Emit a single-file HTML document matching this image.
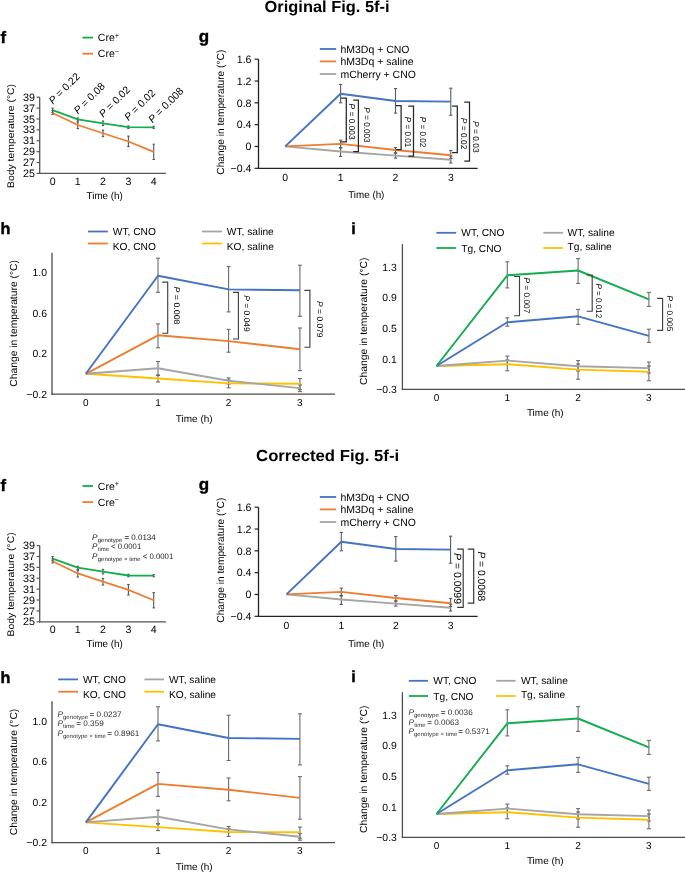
<!DOCTYPE html><html><head><meta charset="utf-8"><style>
html,body{margin:0;padding:0;background:#fff;}
svg{display:block;font-family:"Liberation Sans", sans-serif;text-rendering:geometricPrecision;will-change:transform;}
</style></head><body>
<svg width="685" height="872" viewBox="0 0 685 872">
<rect width="685" height="872" fill="#fff"/>
<text x="264.6" y="11.8" font-size="16" text-anchor="start" font-weight="bold" fill="#000" textLength="125" lengthAdjust="spacingAndGlyphs">Original Fig. 5f-i</text>
<text x="256.1" y="460.6" font-size="16" text-anchor="start" font-weight="bold" fill="#000" textLength="143" lengthAdjust="spacingAndGlyphs">Corrected Fig. 5f-i</text>
<text x="0.4" y="43" font-size="16.5" text-anchor="start" font-weight="bold" fill="#000" stroke="#000" stroke-width="0.45">f</text>
<line x1="82.4" y1="37.6" x2="93" y2="37.6" stroke="#12AD4E" stroke-width="1.8" stroke-linecap="butt"/>
<line x1="82.4" y1="53.7" x2="93" y2="53.7" stroke="#ED7D31" stroke-width="1.8" stroke-linecap="butt"/>
<text x="97.8" y="41.3" font-size="10.5" text-anchor="start" font-weight="normal" fill="#000">Cre<tspan font-size="7.2" dy="-3.6">+</tspan></text>
<text x="97.8" y="57.4" font-size="10.5" text-anchor="start" font-weight="normal" fill="#000">Cre<tspan font-size="7.2" dy="-3.6">−</tspan></text>
<line x1="39.7" y1="97.2" x2="39.7" y2="174" stroke="#555" stroke-width="1.3" stroke-linecap="butt"/>
<line x1="39.1" y1="173.4" x2="165.9" y2="173.4" stroke="#555" stroke-width="1.3" stroke-linecap="butt"/>
<line x1="36.6" y1="97.2" x2="39.7" y2="97.2" stroke="#555" stroke-width="1.2" stroke-linecap="butt"/>
<text x="35" y="100.8" font-size="10.8" text-anchor="end" font-weight="normal" fill="#000">39</text>
<line x1="36.6" y1="108.09" x2="39.7" y2="108.09" stroke="#555" stroke-width="1.2" stroke-linecap="butt"/>
<text x="35" y="111.69" font-size="10.8" text-anchor="end" font-weight="normal" fill="#000">37</text>
<line x1="36.6" y1="118.97" x2="39.7" y2="118.97" stroke="#555" stroke-width="1.2" stroke-linecap="butt"/>
<text x="35" y="122.57" font-size="10.8" text-anchor="end" font-weight="normal" fill="#000">35</text>
<line x1="36.6" y1="129.86" x2="39.7" y2="129.86" stroke="#555" stroke-width="1.2" stroke-linecap="butt"/>
<text x="35" y="133.46" font-size="10.8" text-anchor="end" font-weight="normal" fill="#000">33</text>
<line x1="36.6" y1="140.74" x2="39.7" y2="140.74" stroke="#555" stroke-width="1.2" stroke-linecap="butt"/>
<text x="35" y="144.34" font-size="10.8" text-anchor="end" font-weight="normal" fill="#000">31</text>
<line x1="36.6" y1="151.63" x2="39.7" y2="151.63" stroke="#555" stroke-width="1.2" stroke-linecap="butt"/>
<text x="35" y="155.23" font-size="10.8" text-anchor="end" font-weight="normal" fill="#000">29</text>
<line x1="36.6" y1="162.51" x2="39.7" y2="162.51" stroke="#555" stroke-width="1.2" stroke-linecap="butt"/>
<text x="35" y="166.11" font-size="10.8" text-anchor="end" font-weight="normal" fill="#000">27</text>
<line x1="36.6" y1="173.4" x2="39.7" y2="173.4" stroke="#555" stroke-width="1.2" stroke-linecap="butt"/>
<text x="35" y="177" font-size="10.8" text-anchor="end" font-weight="normal" fill="#000">25</text>
<text x="52.6" y="184.8" font-size="10.6" text-anchor="middle" font-weight="normal" fill="#000">0</text>
<text x="77.8" y="184.8" font-size="10.6" text-anchor="middle" font-weight="normal" fill="#000">1</text>
<text x="103" y="184.8" font-size="10.6" text-anchor="middle" font-weight="normal" fill="#000">2</text>
<text x="128.4" y="184.8" font-size="10.6" text-anchor="middle" font-weight="normal" fill="#000">3</text>
<text x="153.7" y="184.8" font-size="10.6" text-anchor="middle" font-weight="normal" fill="#000">4</text>
<text x="104.7" y="198.6" font-size="10" text-anchor="middle" font-weight="normal" fill="#000" textLength="36.2" lengthAdjust="spacingAndGlyphs">Time (h)</text>
<text x="13.8" y="136" font-size="9.6" text-anchor="middle" font-weight="normal" fill="#000" transform="rotate(-90 13.8 136)" textLength="104" lengthAdjust="spacingAndGlyphs">Body temperature (°C)</text>
<line x1="52.6" y1="110.5" x2="52.6" y2="114.5" stroke="#555" stroke-width="1.1" stroke-linecap="butt"/>
<line x1="51.4" y1="110.5" x2="53.8" y2="110.5" stroke="#555" stroke-width="1.1" stroke-linecap="butt"/>
<line x1="51.4" y1="114.5" x2="53.8" y2="114.5" stroke="#555" stroke-width="1.1" stroke-linecap="butt"/>
<line x1="52.6" y1="108.2" x2="52.6" y2="112.3" stroke="#555" stroke-width="1.1" stroke-linecap="butt"/>
<line x1="51.4" y1="108.2" x2="53.8" y2="108.2" stroke="#555" stroke-width="1.1" stroke-linecap="butt"/>
<line x1="51.4" y1="112.3" x2="53.8" y2="112.3" stroke="#555" stroke-width="1.1" stroke-linecap="butt"/>
<line x1="77.8" y1="122" x2="77.8" y2="128.6" stroke="#555" stroke-width="1.1" stroke-linecap="butt"/>
<line x1="76.6" y1="122" x2="79" y2="122" stroke="#555" stroke-width="1.1" stroke-linecap="butt"/>
<line x1="76.6" y1="128.6" x2="79" y2="128.6" stroke="#555" stroke-width="1.1" stroke-linecap="butt"/>
<line x1="77.8" y1="117.9" x2="77.8" y2="121" stroke="#555" stroke-width="1.1" stroke-linecap="butt"/>
<line x1="76.6" y1="117.9" x2="79" y2="117.9" stroke="#555" stroke-width="1.1" stroke-linecap="butt"/>
<line x1="76.6" y1="121" x2="79" y2="121" stroke="#555" stroke-width="1.1" stroke-linecap="butt"/>
<line x1="103" y1="130.1" x2="103" y2="136.6" stroke="#555" stroke-width="1.1" stroke-linecap="butt"/>
<line x1="101.8" y1="130.1" x2="104.2" y2="130.1" stroke="#555" stroke-width="1.1" stroke-linecap="butt"/>
<line x1="101.8" y1="136.6" x2="104.2" y2="136.6" stroke="#555" stroke-width="1.1" stroke-linecap="butt"/>
<line x1="103" y1="121" x2="103" y2="125.5" stroke="#555" stroke-width="1.1" stroke-linecap="butt"/>
<line x1="101.8" y1="121" x2="104.2" y2="121" stroke="#555" stroke-width="1.1" stroke-linecap="butt"/>
<line x1="101.8" y1="125.5" x2="104.2" y2="125.5" stroke="#555" stroke-width="1.1" stroke-linecap="butt"/>
<line x1="128.4" y1="136.1" x2="128.4" y2="146.6" stroke="#555" stroke-width="1.1" stroke-linecap="butt"/>
<line x1="127.2" y1="136.1" x2="129.6" y2="136.1" stroke="#555" stroke-width="1.1" stroke-linecap="butt"/>
<line x1="127.2" y1="146.6" x2="129.6" y2="146.6" stroke="#555" stroke-width="1.1" stroke-linecap="butt"/>
<line x1="128.4" y1="125.9" x2="128.4" y2="128.4" stroke="#555" stroke-width="1.1" stroke-linecap="butt"/>
<line x1="127.2" y1="125.9" x2="129.6" y2="125.9" stroke="#555" stroke-width="1.1" stroke-linecap="butt"/>
<line x1="127.2" y1="128.4" x2="129.6" y2="128.4" stroke="#555" stroke-width="1.1" stroke-linecap="butt"/>
<line x1="153.7" y1="144.2" x2="153.7" y2="159.5" stroke="#555" stroke-width="1.1" stroke-linecap="butt"/>
<line x1="152.5" y1="144.2" x2="154.9" y2="144.2" stroke="#555" stroke-width="1.1" stroke-linecap="butt"/>
<line x1="152.5" y1="159.5" x2="154.9" y2="159.5" stroke="#555" stroke-width="1.1" stroke-linecap="butt"/>
<line x1="153.7" y1="126.3" x2="153.7" y2="128.3" stroke="#555" stroke-width="1.1" stroke-linecap="butt"/>
<line x1="152.5" y1="126.3" x2="154.9" y2="126.3" stroke="#555" stroke-width="1.1" stroke-linecap="butt"/>
<line x1="152.5" y1="128.3" x2="154.9" y2="128.3" stroke="#555" stroke-width="1.1" stroke-linecap="butt"/>
<polyline points="52.6,112.9 77.8,125 103,133.2 128.4,141.5 153.7,151.9" fill="none" stroke="#ED7D31" stroke-width="1.7" stroke-linejoin="round" stroke-linecap="butt"/>
<polyline points="52.6,110.2 77.8,119.3 103,123.3 128.4,127.1 153.7,127.3" fill="none" stroke="#12AD4E" stroke-width="1.8" stroke-linejoin="round" stroke-linecap="butt"/>
<text x="52.9" y="104.8" font-size="10.4" text-anchor="start" font-weight="normal" fill="#000" transform="rotate(-45 52.9 104.8)"><tspan font-style="italic">P</tspan> = 0.22</text>
<text x="78" y="114.6" font-size="10.4" text-anchor="start" font-weight="normal" fill="#000" transform="rotate(-45 78 114.6)"><tspan font-style="italic">P</tspan> = 0.08</text>
<text x="103.2" y="118" font-size="10.4" text-anchor="start" font-weight="normal" fill="#000" transform="rotate(-45 103.2 118)"><tspan font-style="italic">P</tspan> = 0.02</text>
<text x="128.4" y="121.2" font-size="10.4" text-anchor="start" font-weight="normal" fill="#000" transform="rotate(-45 128.4 121.2)"><tspan font-style="italic">P</tspan> = 0.02</text>
<text x="152.5" y="123.4" font-size="10.4" text-anchor="start" font-weight="normal" fill="#000" transform="rotate(-45 152.5 123.4)"><tspan font-style="italic">P</tspan> = 0.008</text>
<text x="0.4" y="491.4" font-size="16.5" text-anchor="start" font-weight="bold" fill="#000" stroke="#000" stroke-width="0.45">f</text>
<line x1="82.4" y1="486" x2="93" y2="486" stroke="#12AD4E" stroke-width="1.8" stroke-linecap="butt"/>
<line x1="82.4" y1="502.1" x2="93" y2="502.1" stroke="#ED7D31" stroke-width="1.8" stroke-linecap="butt"/>
<text x="97.8" y="489.7" font-size="10.5" text-anchor="start" font-weight="normal" fill="#000">Cre<tspan font-size="7.2" dy="-3.6">+</tspan></text>
<text x="97.8" y="505.8" font-size="10.5" text-anchor="start" font-weight="normal" fill="#000">Cre<tspan font-size="7.2" dy="-3.6">−</tspan></text>
<line x1="39.7" y1="545.6" x2="39.7" y2="622.4" stroke="#555" stroke-width="1.3" stroke-linecap="butt"/>
<line x1="39.1" y1="621.8" x2="165.9" y2="621.8" stroke="#555" stroke-width="1.3" stroke-linecap="butt"/>
<line x1="36.6" y1="545.6" x2="39.7" y2="545.6" stroke="#555" stroke-width="1.2" stroke-linecap="butt"/>
<text x="35" y="549.2" font-size="10.8" text-anchor="end" font-weight="normal" fill="#000">39</text>
<line x1="36.6" y1="556.49" x2="39.7" y2="556.49" stroke="#555" stroke-width="1.2" stroke-linecap="butt"/>
<text x="35" y="560.09" font-size="10.8" text-anchor="end" font-weight="normal" fill="#000">37</text>
<line x1="36.6" y1="567.37" x2="39.7" y2="567.37" stroke="#555" stroke-width="1.2" stroke-linecap="butt"/>
<text x="35" y="570.97" font-size="10.8" text-anchor="end" font-weight="normal" fill="#000">35</text>
<line x1="36.6" y1="578.26" x2="39.7" y2="578.26" stroke="#555" stroke-width="1.2" stroke-linecap="butt"/>
<text x="35" y="581.86" font-size="10.8" text-anchor="end" font-weight="normal" fill="#000">33</text>
<line x1="36.6" y1="589.14" x2="39.7" y2="589.14" stroke="#555" stroke-width="1.2" stroke-linecap="butt"/>
<text x="35" y="592.74" font-size="10.8" text-anchor="end" font-weight="normal" fill="#000">31</text>
<line x1="36.6" y1="600.03" x2="39.7" y2="600.03" stroke="#555" stroke-width="1.2" stroke-linecap="butt"/>
<text x="35" y="603.63" font-size="10.8" text-anchor="end" font-weight="normal" fill="#000">29</text>
<line x1="36.6" y1="610.91" x2="39.7" y2="610.91" stroke="#555" stroke-width="1.2" stroke-linecap="butt"/>
<text x="35" y="614.51" font-size="10.8" text-anchor="end" font-weight="normal" fill="#000">27</text>
<line x1="36.6" y1="621.8" x2="39.7" y2="621.8" stroke="#555" stroke-width="1.2" stroke-linecap="butt"/>
<text x="35" y="625.4" font-size="10.8" text-anchor="end" font-weight="normal" fill="#000">25</text>
<text x="52.6" y="633.2" font-size="10.6" text-anchor="middle" font-weight="normal" fill="#000">0</text>
<text x="77.8" y="633.2" font-size="10.6" text-anchor="middle" font-weight="normal" fill="#000">1</text>
<text x="103" y="633.2" font-size="10.6" text-anchor="middle" font-weight="normal" fill="#000">2</text>
<text x="128.4" y="633.2" font-size="10.6" text-anchor="middle" font-weight="normal" fill="#000">3</text>
<text x="153.7" y="633.2" font-size="10.6" text-anchor="middle" font-weight="normal" fill="#000">4</text>
<text x="104.7" y="647" font-size="10" text-anchor="middle" font-weight="normal" fill="#000" textLength="36.2" lengthAdjust="spacingAndGlyphs">Time (h)</text>
<text x="13.8" y="584.4" font-size="9.6" text-anchor="middle" font-weight="normal" fill="#000" transform="rotate(-90 13.8 584.4)" textLength="104" lengthAdjust="spacingAndGlyphs">Body temperature (°C)</text>
<line x1="52.6" y1="558.9" x2="52.6" y2="562.9" stroke="#555" stroke-width="1.1" stroke-linecap="butt"/>
<line x1="51.4" y1="558.9" x2="53.8" y2="558.9" stroke="#555" stroke-width="1.1" stroke-linecap="butt"/>
<line x1="51.4" y1="562.9" x2="53.8" y2="562.9" stroke="#555" stroke-width="1.1" stroke-linecap="butt"/>
<line x1="52.6" y1="556.6" x2="52.6" y2="560.7" stroke="#555" stroke-width="1.1" stroke-linecap="butt"/>
<line x1="51.4" y1="556.6" x2="53.8" y2="556.6" stroke="#555" stroke-width="1.1" stroke-linecap="butt"/>
<line x1="51.4" y1="560.7" x2="53.8" y2="560.7" stroke="#555" stroke-width="1.1" stroke-linecap="butt"/>
<line x1="77.8" y1="570.4" x2="77.8" y2="577" stroke="#555" stroke-width="1.1" stroke-linecap="butt"/>
<line x1="76.6" y1="570.4" x2="79" y2="570.4" stroke="#555" stroke-width="1.1" stroke-linecap="butt"/>
<line x1="76.6" y1="577" x2="79" y2="577" stroke="#555" stroke-width="1.1" stroke-linecap="butt"/>
<line x1="77.8" y1="566.3" x2="77.8" y2="569.4" stroke="#555" stroke-width="1.1" stroke-linecap="butt"/>
<line x1="76.6" y1="566.3" x2="79" y2="566.3" stroke="#555" stroke-width="1.1" stroke-linecap="butt"/>
<line x1="76.6" y1="569.4" x2="79" y2="569.4" stroke="#555" stroke-width="1.1" stroke-linecap="butt"/>
<line x1="103" y1="578.5" x2="103" y2="585" stroke="#555" stroke-width="1.1" stroke-linecap="butt"/>
<line x1="101.8" y1="578.5" x2="104.2" y2="578.5" stroke="#555" stroke-width="1.1" stroke-linecap="butt"/>
<line x1="101.8" y1="585" x2="104.2" y2="585" stroke="#555" stroke-width="1.1" stroke-linecap="butt"/>
<line x1="103" y1="569.4" x2="103" y2="573.9" stroke="#555" stroke-width="1.1" stroke-linecap="butt"/>
<line x1="101.8" y1="569.4" x2="104.2" y2="569.4" stroke="#555" stroke-width="1.1" stroke-linecap="butt"/>
<line x1="101.8" y1="573.9" x2="104.2" y2="573.9" stroke="#555" stroke-width="1.1" stroke-linecap="butt"/>
<line x1="128.4" y1="584.5" x2="128.4" y2="595" stroke="#555" stroke-width="1.1" stroke-linecap="butt"/>
<line x1="127.2" y1="584.5" x2="129.6" y2="584.5" stroke="#555" stroke-width="1.1" stroke-linecap="butt"/>
<line x1="127.2" y1="595" x2="129.6" y2="595" stroke="#555" stroke-width="1.1" stroke-linecap="butt"/>
<line x1="128.4" y1="574.3" x2="128.4" y2="576.8" stroke="#555" stroke-width="1.1" stroke-linecap="butt"/>
<line x1="127.2" y1="574.3" x2="129.6" y2="574.3" stroke="#555" stroke-width="1.1" stroke-linecap="butt"/>
<line x1="127.2" y1="576.8" x2="129.6" y2="576.8" stroke="#555" stroke-width="1.1" stroke-linecap="butt"/>
<line x1="153.7" y1="592.6" x2="153.7" y2="607.9" stroke="#555" stroke-width="1.1" stroke-linecap="butt"/>
<line x1="152.5" y1="592.6" x2="154.9" y2="592.6" stroke="#555" stroke-width="1.1" stroke-linecap="butt"/>
<line x1="152.5" y1="607.9" x2="154.9" y2="607.9" stroke="#555" stroke-width="1.1" stroke-linecap="butt"/>
<line x1="153.7" y1="574.7" x2="153.7" y2="576.7" stroke="#555" stroke-width="1.1" stroke-linecap="butt"/>
<line x1="152.5" y1="574.7" x2="154.9" y2="574.7" stroke="#555" stroke-width="1.1" stroke-linecap="butt"/>
<line x1="152.5" y1="576.7" x2="154.9" y2="576.7" stroke="#555" stroke-width="1.1" stroke-linecap="butt"/>
<polyline points="52.6,561.3 77.8,573.4 103,581.6 128.4,589.9 153.7,600.3" fill="none" stroke="#ED7D31" stroke-width="1.7" stroke-linejoin="round" stroke-linecap="butt"/>
<polyline points="52.6,558.6 77.8,567.7 103,571.7 128.4,575.5 153.7,575.7" fill="none" stroke="#12AD4E" stroke-width="1.8" stroke-linejoin="round" stroke-linecap="butt"/>
<text x="92" y="539.6" font-size="8.16" text-anchor="start" font-weight="normal" fill="#1a1a1a" font-style="italic">P</text>
<text x="97.8" y="541.5" font-size="5.9" text-anchor="start" font-weight="normal" fill="#1a1a1a" textLength="24.4" lengthAdjust="spacingAndGlyphs">genotype</text>
<text x="124.4" y="539.6" font-size="8.0" text-anchor="start" font-weight="normal" fill="#1a1a1a" textLength="31.4" lengthAdjust="spacingAndGlyphs">= 0.0134</text>
<text x="92" y="549.1" font-size="8.16" text-anchor="start" font-weight="normal" fill="#1a1a1a" font-style="italic">P</text>
<text x="97.8" y="551" font-size="5.9" text-anchor="start" font-weight="normal" fill="#1a1a1a" textLength="11.2" lengthAdjust="spacingAndGlyphs">time</text>
<text x="111" y="549.1" font-size="8.0" text-anchor="start" font-weight="normal" fill="#1a1a1a" textLength="30.2" lengthAdjust="spacingAndGlyphs">&lt; 0.0001</text>
<text x="92" y="559.3" font-size="8.16" text-anchor="start" font-weight="normal" fill="#1a1a1a" font-style="italic">P</text>
<text x="97.8" y="561.2" font-size="5.9" text-anchor="start" font-weight="normal" fill="#1a1a1a" textLength="42.7" lengthAdjust="spacingAndGlyphs">genotype × time</text>
<text x="142.7" y="559.3" font-size="8.0" text-anchor="start" font-weight="normal" fill="#1a1a1a" textLength="30.6" lengthAdjust="spacingAndGlyphs">&lt; 0.0001</text>
<text x="198.8" y="42.3" font-size="17" text-anchor="start" font-weight="bold" fill="#000" stroke="#000" stroke-width="0.4">g</text>
<line x1="319.8" y1="49" x2="336.2" y2="49" stroke="#4472C4" stroke-width="1.8" stroke-linecap="butt"/>
<text x="340.4" y="52.8" font-size="10.5" text-anchor="start" font-weight="normal" fill="#000">hM3Dq + CNO</text>
<line x1="319.8" y1="61.4" x2="336.2" y2="61.4" stroke="#ED7D31" stroke-width="1.8" stroke-linecap="butt"/>
<text x="340.4" y="65.2" font-size="10.5" text-anchor="start" font-weight="normal" fill="#000">hM3Dq + saline</text>
<line x1="319.8" y1="74" x2="336.2" y2="74" stroke="#A5A5A5" stroke-width="1.8" stroke-linecap="butt"/>
<text x="340.4" y="77.8" font-size="10.5" text-anchor="start" font-weight="normal" fill="#000">mCherry + CNO</text>
<line x1="258.5" y1="59.2" x2="258.5" y2="168.9" stroke="#222" stroke-width="1.3" stroke-linecap="butt"/>
<line x1="257.9" y1="168.3" x2="477.7" y2="168.3" stroke="#222" stroke-width="1.3" stroke-linecap="butt"/>
<line x1="254.6" y1="59.2" x2="258.5" y2="59.2" stroke="#222" stroke-width="1.2" stroke-linecap="butt"/>
<text x="251.5" y="63" font-size="10.6" text-anchor="end" font-weight="normal" fill="#000">1.6</text>
<line x1="254.6" y1="81.02" x2="258.5" y2="81.02" stroke="#222" stroke-width="1.2" stroke-linecap="butt"/>
<text x="251.5" y="84.82" font-size="10.6" text-anchor="end" font-weight="normal" fill="#000">1.2</text>
<line x1="254.6" y1="102.84" x2="258.5" y2="102.84" stroke="#222" stroke-width="1.2" stroke-linecap="butt"/>
<text x="251.5" y="106.64" font-size="10.6" text-anchor="end" font-weight="normal" fill="#000">0.8</text>
<line x1="254.6" y1="124.66" x2="258.5" y2="124.66" stroke="#222" stroke-width="1.2" stroke-linecap="butt"/>
<text x="251.5" y="128.46" font-size="10.6" text-anchor="end" font-weight="normal" fill="#000">0.4</text>
<line x1="254.6" y1="146.48" x2="258.5" y2="146.48" stroke="#222" stroke-width="1.2" stroke-linecap="butt"/>
<text x="251.5" y="150.28" font-size="10.6" text-anchor="end" font-weight="normal" fill="#000">0</text>
<line x1="254.6" y1="168.3" x2="258.5" y2="168.3" stroke="#222" stroke-width="1.2" stroke-linecap="butt"/>
<text x="251.5" y="172.1" font-size="10.6" text-anchor="end" font-weight="normal" fill="#000">−0.4</text>
<text x="285.2" y="181.4" font-size="10.4" text-anchor="middle" font-weight="normal" fill="#000">0</text>
<text x="340.6" y="181.4" font-size="10.4" text-anchor="middle" font-weight="normal" fill="#000">1</text>
<text x="395.5" y="181.4" font-size="10.4" text-anchor="middle" font-weight="normal" fill="#000">2</text>
<text x="450.8" y="181.4" font-size="10.4" text-anchor="middle" font-weight="normal" fill="#000">3</text>
<text x="366.3" y="198.2" font-size="10" text-anchor="middle" font-weight="normal" fill="#000" textLength="36.2" lengthAdjust="spacingAndGlyphs">Time (h)</text>
<text x="223.6" y="112.2" font-size="10.3" text-anchor="middle" font-weight="normal" fill="#000" transform="rotate(-90 223.6 112.2)" textLength="125" lengthAdjust="spacingAndGlyphs">Change in temperature (°C)</text>
<line x1="340.6" y1="84.4" x2="340.6" y2="102.8" stroke="#5a5a5a" stroke-width="1.1" stroke-linecap="butt"/>
<line x1="338.95" y1="84.4" x2="342.25" y2="84.4" stroke="#5a5a5a" stroke-width="1.1" stroke-linecap="butt"/>
<line x1="338.95" y1="102.8" x2="342.25" y2="102.8" stroke="#5a5a5a" stroke-width="1.1" stroke-linecap="butt"/>
<line x1="340.6" y1="140.2" x2="340.6" y2="148" stroke="#5a5a5a" stroke-width="1.1" stroke-linecap="butt"/>
<line x1="338.95" y1="140.2" x2="342.25" y2="140.2" stroke="#5a5a5a" stroke-width="1.1" stroke-linecap="butt"/>
<line x1="338.95" y1="148" x2="342.25" y2="148" stroke="#5a5a5a" stroke-width="1.1" stroke-linecap="butt"/>
<line x1="340.6" y1="147.5" x2="340.6" y2="156.4" stroke="#5a5a5a" stroke-width="1.1" stroke-linecap="butt"/>
<line x1="338.95" y1="147.5" x2="342.25" y2="147.5" stroke="#5a5a5a" stroke-width="1.1" stroke-linecap="butt"/>
<line x1="338.95" y1="156.4" x2="342.25" y2="156.4" stroke="#5a5a5a" stroke-width="1.1" stroke-linecap="butt"/>
<line x1="395.5" y1="88.6" x2="395.5" y2="113.1" stroke="#5a5a5a" stroke-width="1.1" stroke-linecap="butt"/>
<line x1="393.85" y1="88.6" x2="397.15" y2="88.6" stroke="#5a5a5a" stroke-width="1.1" stroke-linecap="butt"/>
<line x1="393.85" y1="113.1" x2="397.15" y2="113.1" stroke="#5a5a5a" stroke-width="1.1" stroke-linecap="butt"/>
<line x1="395.5" y1="147.5" x2="395.5" y2="153" stroke="#5a5a5a" stroke-width="1.1" stroke-linecap="butt"/>
<line x1="393.85" y1="147.5" x2="397.15" y2="147.5" stroke="#5a5a5a" stroke-width="1.1" stroke-linecap="butt"/>
<line x1="393.85" y1="153" x2="397.15" y2="153" stroke="#5a5a5a" stroke-width="1.1" stroke-linecap="butt"/>
<line x1="395.5" y1="153" x2="395.5" y2="158.1" stroke="#5a5a5a" stroke-width="1.1" stroke-linecap="butt"/>
<line x1="393.85" y1="153" x2="397.15" y2="153" stroke="#5a5a5a" stroke-width="1.1" stroke-linecap="butt"/>
<line x1="393.85" y1="158.1" x2="397.15" y2="158.1" stroke="#5a5a5a" stroke-width="1.1" stroke-linecap="butt"/>
<line x1="450.8" y1="88.2" x2="450.8" y2="115.2" stroke="#5a5a5a" stroke-width="1.1" stroke-linecap="butt"/>
<line x1="449.15" y1="88.2" x2="452.45" y2="88.2" stroke="#5a5a5a" stroke-width="1.1" stroke-linecap="butt"/>
<line x1="449.15" y1="115.2" x2="452.45" y2="115.2" stroke="#5a5a5a" stroke-width="1.1" stroke-linecap="butt"/>
<line x1="450.8" y1="150.5" x2="450.8" y2="158.5" stroke="#5a5a5a" stroke-width="1.1" stroke-linecap="butt"/>
<line x1="449.15" y1="150.5" x2="452.45" y2="150.5" stroke="#5a5a5a" stroke-width="1.1" stroke-linecap="butt"/>
<line x1="449.15" y1="158.5" x2="452.45" y2="158.5" stroke="#5a5a5a" stroke-width="1.1" stroke-linecap="butt"/>
<line x1="450.8" y1="156" x2="450.8" y2="163" stroke="#5a5a5a" stroke-width="1.1" stroke-linecap="butt"/>
<line x1="449.15" y1="156" x2="452.45" y2="156" stroke="#5a5a5a" stroke-width="1.1" stroke-linecap="butt"/>
<line x1="449.15" y1="163" x2="452.45" y2="163" stroke="#5a5a5a" stroke-width="1.1" stroke-linecap="butt"/>
<polyline points="285.2,146.4 340.6,151.5 395.5,155.6 450.8,159.7" fill="none" stroke="#A5A5A5" stroke-width="1.9" stroke-linejoin="round" stroke-linecap="butt"/>
<polyline points="285.2,146.4 340.6,143.9 395.5,150 450.8,155.2" fill="none" stroke="#ED7D31" stroke-width="1.9" stroke-linejoin="round" stroke-linecap="butt"/>
<polyline points="285.2,146.4 340.6,93.8 395.5,101 450.8,101.6" fill="none" stroke="#4472C4" stroke-width="1.9" stroke-linejoin="round" stroke-linecap="butt"/>
<polyline points="341.1,98 346.3,98 346.3,141.9 341.1,141.9" fill="none" stroke="#262626" stroke-width="1.25"/>
<text x="349" y="103.6" font-size="8.5" text-anchor="start" font-weight="normal" fill="#000" transform="rotate(90 349 103.6)" textLength="36.1" lengthAdjust="spacingAndGlyphs"><tspan font-style="italic">P</tspan> = 0.003</text>
<polyline points="353.2,100.1 358.4,100.1 358.4,151.7 353.2,151.7" fill="none" stroke="#262626" stroke-width="1.25"/>
<text x="363.8" y="107.3" font-size="8.5" text-anchor="start" font-weight="normal" fill="#000" transform="rotate(90 363.8 107.3)" textLength="35.4" lengthAdjust="spacingAndGlyphs"><tspan font-style="italic">P</tspan> = 0.003</text>
<polyline points="395.9,105.5 401.1,105.5 401.1,149.5 395.9,149.5" fill="none" stroke="#262626" stroke-width="1.25"/>
<text x="404.5" y="116.8" font-size="8.5" text-anchor="start" font-weight="normal" fill="#000" transform="rotate(90 404.5 116.8)" textLength="30.6" lengthAdjust="spacingAndGlyphs"><tspan font-style="italic">P</tspan> = 0.01</text>
<polyline points="408.3,106.2 413.5,106.2 413.5,156 408.3,156" fill="none" stroke="#262626" stroke-width="1.25"/>
<text x="419.6" y="116.8" font-size="8.5" text-anchor="start" font-weight="normal" fill="#000" transform="rotate(90 419.6 116.8)" textLength="30.6" lengthAdjust="spacingAndGlyphs"><tspan font-style="italic">P</tspan> = 0.02</text>
<polyline points="452.1,106 457.3,106 457.3,152.6 452.1,152.6" fill="none" stroke="#262626" stroke-width="1.25"/>
<text x="461" y="117.8" font-size="8.5" text-anchor="start" font-weight="normal" fill="#000" transform="rotate(90 461 117.8)" textLength="31.7" lengthAdjust="spacingAndGlyphs"><tspan font-style="italic">P</tspan> = 0.02</text>
<polyline points="464.3,102 469.5,102 469.5,161.1 464.3,161.1" fill="none" stroke="#262626" stroke-width="1.25"/>
<text x="472.6" y="120.9" font-size="8.5" text-anchor="start" font-weight="normal" fill="#000" transform="rotate(90 472.6 120.9)" textLength="31.7" lengthAdjust="spacingAndGlyphs"><tspan font-style="italic">P</tspan> = 0.03</text>
<text x="198.8" y="490.3" font-size="17" text-anchor="start" font-weight="bold" fill="#000" stroke="#000" stroke-width="0.4">g</text>
<line x1="319.8" y1="497" x2="336.2" y2="497" stroke="#4472C4" stroke-width="1.8" stroke-linecap="butt"/>
<text x="340.4" y="500.8" font-size="10.5" text-anchor="start" font-weight="normal" fill="#000">hM3Dq + CNO</text>
<line x1="319.8" y1="509.4" x2="336.2" y2="509.4" stroke="#ED7D31" stroke-width="1.8" stroke-linecap="butt"/>
<text x="340.4" y="513.2" font-size="10.5" text-anchor="start" font-weight="normal" fill="#000">hM3Dq + saline</text>
<line x1="319.8" y1="522" x2="336.2" y2="522" stroke="#A5A5A5" stroke-width="1.8" stroke-linecap="butt"/>
<text x="340.4" y="525.8" font-size="10.5" text-anchor="start" font-weight="normal" fill="#000">mCherry + CNO</text>
<line x1="258.5" y1="507.2" x2="258.5" y2="616.9" stroke="#222" stroke-width="1.3" stroke-linecap="butt"/>
<line x1="257.9" y1="616.3" x2="477.7" y2="616.3" stroke="#222" stroke-width="1.3" stroke-linecap="butt"/>
<line x1="254.6" y1="507.2" x2="258.5" y2="507.2" stroke="#222" stroke-width="1.2" stroke-linecap="butt"/>
<text x="251.5" y="511" font-size="10.6" text-anchor="end" font-weight="normal" fill="#000">1.6</text>
<line x1="254.6" y1="529.02" x2="258.5" y2="529.02" stroke="#222" stroke-width="1.2" stroke-linecap="butt"/>
<text x="251.5" y="532.82" font-size="10.6" text-anchor="end" font-weight="normal" fill="#000">1.2</text>
<line x1="254.6" y1="550.84" x2="258.5" y2="550.84" stroke="#222" stroke-width="1.2" stroke-linecap="butt"/>
<text x="251.5" y="554.64" font-size="10.6" text-anchor="end" font-weight="normal" fill="#000">0.8</text>
<line x1="254.6" y1="572.66" x2="258.5" y2="572.66" stroke="#222" stroke-width="1.2" stroke-linecap="butt"/>
<text x="251.5" y="576.46" font-size="10.6" text-anchor="end" font-weight="normal" fill="#000">0.4</text>
<line x1="254.6" y1="594.48" x2="258.5" y2="594.48" stroke="#222" stroke-width="1.2" stroke-linecap="butt"/>
<text x="251.5" y="598.28" font-size="10.6" text-anchor="end" font-weight="normal" fill="#000">0</text>
<line x1="254.6" y1="616.3" x2="258.5" y2="616.3" stroke="#222" stroke-width="1.2" stroke-linecap="butt"/>
<text x="251.5" y="620.1" font-size="10.6" text-anchor="end" font-weight="normal" fill="#000">−0.4</text>
<text x="286.5" y="629.4" font-size="10.4" text-anchor="middle" font-weight="normal" fill="#000">0</text>
<text x="341.3" y="629.4" font-size="10.4" text-anchor="middle" font-weight="normal" fill="#000">1</text>
<text x="395.8" y="629.4" font-size="10.4" text-anchor="middle" font-weight="normal" fill="#000">2</text>
<text x="450.6" y="629.4" font-size="10.4" text-anchor="middle" font-weight="normal" fill="#000">3</text>
<text x="366.3" y="647.2" font-size="10" text-anchor="middle" font-weight="normal" fill="#000" textLength="36.2" lengthAdjust="spacingAndGlyphs">Time (h)</text>
<text x="223.6" y="560.2" font-size="10.3" text-anchor="middle" font-weight="normal" fill="#000" transform="rotate(-90 223.6 560.2)" textLength="125" lengthAdjust="spacingAndGlyphs">Change in temperature (°C)</text>
<line x1="341.3" y1="532.4" x2="341.3" y2="550.8" stroke="#5a5a5a" stroke-width="1.1" stroke-linecap="butt"/>
<line x1="339.65" y1="532.4" x2="342.95" y2="532.4" stroke="#5a5a5a" stroke-width="1.1" stroke-linecap="butt"/>
<line x1="339.65" y1="550.8" x2="342.95" y2="550.8" stroke="#5a5a5a" stroke-width="1.1" stroke-linecap="butt"/>
<line x1="341.3" y1="588.2" x2="341.3" y2="596" stroke="#5a5a5a" stroke-width="1.1" stroke-linecap="butt"/>
<line x1="339.65" y1="588.2" x2="342.95" y2="588.2" stroke="#5a5a5a" stroke-width="1.1" stroke-linecap="butt"/>
<line x1="339.65" y1="596" x2="342.95" y2="596" stroke="#5a5a5a" stroke-width="1.1" stroke-linecap="butt"/>
<line x1="341.3" y1="595.5" x2="341.3" y2="604.4" stroke="#5a5a5a" stroke-width="1.1" stroke-linecap="butt"/>
<line x1="339.65" y1="595.5" x2="342.95" y2="595.5" stroke="#5a5a5a" stroke-width="1.1" stroke-linecap="butt"/>
<line x1="339.65" y1="604.4" x2="342.95" y2="604.4" stroke="#5a5a5a" stroke-width="1.1" stroke-linecap="butt"/>
<line x1="395.8" y1="536.6" x2="395.8" y2="561.1" stroke="#5a5a5a" stroke-width="1.1" stroke-linecap="butt"/>
<line x1="394.15" y1="536.6" x2="397.45" y2="536.6" stroke="#5a5a5a" stroke-width="1.1" stroke-linecap="butt"/>
<line x1="394.15" y1="561.1" x2="397.45" y2="561.1" stroke="#5a5a5a" stroke-width="1.1" stroke-linecap="butt"/>
<line x1="395.8" y1="595.5" x2="395.8" y2="601" stroke="#5a5a5a" stroke-width="1.1" stroke-linecap="butt"/>
<line x1="394.15" y1="595.5" x2="397.45" y2="595.5" stroke="#5a5a5a" stroke-width="1.1" stroke-linecap="butt"/>
<line x1="394.15" y1="601" x2="397.45" y2="601" stroke="#5a5a5a" stroke-width="1.1" stroke-linecap="butt"/>
<line x1="395.8" y1="601" x2="395.8" y2="606.1" stroke="#5a5a5a" stroke-width="1.1" stroke-linecap="butt"/>
<line x1="394.15" y1="601" x2="397.45" y2="601" stroke="#5a5a5a" stroke-width="1.1" stroke-linecap="butt"/>
<line x1="394.15" y1="606.1" x2="397.45" y2="606.1" stroke="#5a5a5a" stroke-width="1.1" stroke-linecap="butt"/>
<line x1="450.6" y1="536.2" x2="450.6" y2="563.2" stroke="#5a5a5a" stroke-width="1.1" stroke-linecap="butt"/>
<line x1="448.95" y1="536.2" x2="452.25" y2="536.2" stroke="#5a5a5a" stroke-width="1.1" stroke-linecap="butt"/>
<line x1="448.95" y1="563.2" x2="452.25" y2="563.2" stroke="#5a5a5a" stroke-width="1.1" stroke-linecap="butt"/>
<line x1="450.6" y1="598.5" x2="450.6" y2="606.5" stroke="#5a5a5a" stroke-width="1.1" stroke-linecap="butt"/>
<line x1="448.95" y1="598.5" x2="452.25" y2="598.5" stroke="#5a5a5a" stroke-width="1.1" stroke-linecap="butt"/>
<line x1="448.95" y1="606.5" x2="452.25" y2="606.5" stroke="#5a5a5a" stroke-width="1.1" stroke-linecap="butt"/>
<line x1="450.6" y1="604" x2="450.6" y2="611" stroke="#5a5a5a" stroke-width="1.1" stroke-linecap="butt"/>
<line x1="448.95" y1="604" x2="452.25" y2="604" stroke="#5a5a5a" stroke-width="1.1" stroke-linecap="butt"/>
<line x1="448.95" y1="611" x2="452.25" y2="611" stroke="#5a5a5a" stroke-width="1.1" stroke-linecap="butt"/>
<polyline points="286.5,594.4 341.3,599.5 395.8,603.6 450.6,607.7" fill="none" stroke="#A5A5A5" stroke-width="1.9" stroke-linejoin="round" stroke-linecap="butt"/>
<polyline points="286.5,594.4 341.3,591.9 395.8,598 450.6,603.2" fill="none" stroke="#ED7D31" stroke-width="1.9" stroke-linejoin="round" stroke-linecap="butt"/>
<polyline points="286.5,594.4 341.3,541.8 395.8,549 450.6,549.6" fill="none" stroke="#4472C4" stroke-width="1.9" stroke-linejoin="round" stroke-linecap="butt"/>
<polyline points="457.2,549.1 463.2,549.1 463.2,607.4 457.2,607.4" fill="none" stroke="#333" stroke-width="1.15"/>
<polyline points="467.7,549.1 473.7,549.1 473.7,603.1 467.7,603.1" fill="none" stroke="#333" stroke-width="1.15"/>
<text x="453.8" y="553.1" font-size="10.5" text-anchor="start" font-weight="normal" fill="#000" transform="rotate(90 453.8 553.1)" textLength="50.9" lengthAdjust="spacingAndGlyphs"><tspan font-style="italic">P</tspan> = 0.0099</text>
<text x="477.5" y="551.4" font-size="10.5" text-anchor="start" font-weight="normal" fill="#000" transform="rotate(90 477.5 551.4)" textLength="49.9" lengthAdjust="spacingAndGlyphs"><tspan font-style="italic">P</tspan> = 0.0068</text>
<text x="0.4" y="234.2" font-size="16.2" text-anchor="start" font-weight="bold" fill="#000" stroke="#000" stroke-width="0.45">h</text>
<line x1="88" y1="231.5" x2="107.8" y2="231.5" stroke="#4472C4" stroke-width="1.8" stroke-linecap="butt"/>
<text x="112.8" y="234.9" font-size="10.2" text-anchor="start" font-weight="normal" fill="#000">WT, CNO</text>
<line x1="88" y1="243.5" x2="107.8" y2="243.5" stroke="#ED7D31" stroke-width="1.8" stroke-linecap="butt"/>
<text x="112.8" y="249.7" font-size="10.2" text-anchor="start" font-weight="normal" fill="#000">KO, CNO</text>
<line x1="202" y1="231.5" x2="222" y2="231.5" stroke="#A5A5A5" stroke-width="1.8" stroke-linecap="butt"/>
<text x="226.8" y="234.9" font-size="10.2" text-anchor="start" font-weight="normal" fill="#000">WT, saline</text>
<line x1="202" y1="243.5" x2="222" y2="243.5" stroke="#FFC000" stroke-width="1.8" stroke-linecap="butt"/>
<text x="226.8" y="249.7" font-size="10.2" text-anchor="start" font-weight="normal" fill="#000">KO, saline</text>
<line x1="52" y1="252.7" x2="52" y2="394.7" stroke="#4d4d4d" stroke-width="1.3" stroke-linecap="butt"/>
<line x1="51.4" y1="394.1" x2="335" y2="394.1" stroke="#4d4d4d" stroke-width="1.3" stroke-linecap="butt"/>
<text x="47" y="276.3" font-size="10.4" text-anchor="end" font-weight="normal" fill="#000">1.0</text>
<text x="47" y="316.8" font-size="10.4" text-anchor="end" font-weight="normal" fill="#000">0.6</text>
<text x="47" y="357.1" font-size="10.4" text-anchor="end" font-weight="normal" fill="#000">0.2</text>
<text x="47" y="397.8" font-size="10.4" text-anchor="end" font-weight="normal" fill="#000">−0.2</text>
<text x="85.8" y="405.6" font-size="10" text-anchor="middle" font-weight="normal" fill="#000">0</text>
<text x="158" y="405.6" font-size="10" text-anchor="middle" font-weight="normal" fill="#000">1</text>
<text x="228.6" y="405.6" font-size="10" text-anchor="middle" font-weight="normal" fill="#000">2</text>
<text x="299.9" y="405.6" font-size="10" text-anchor="middle" font-weight="normal" fill="#000">3</text>
<text x="194.2" y="421.6" font-size="9.8" text-anchor="middle" font-weight="normal" fill="#000" textLength="36.8" lengthAdjust="spacingAndGlyphs">Time (h)</text>
<text x="16.9" y="323.4" font-size="10.2" text-anchor="middle" font-weight="normal" fill="#000" transform="rotate(-90 16.9 323.4)" textLength="126.5" lengthAdjust="spacingAndGlyphs">Change in temperature (°C)</text>
<line x1="158" y1="258.2" x2="158" y2="292.3" stroke="#6b6b6b" stroke-width="1.1" stroke-linecap="butt"/>
<line x1="156" y1="258.2" x2="160" y2="258.2" stroke="#6b6b6b" stroke-width="1.1" stroke-linecap="butt"/>
<line x1="156" y1="292.3" x2="160" y2="292.3" stroke="#6b6b6b" stroke-width="1.1" stroke-linecap="butt"/>
<line x1="158" y1="323.9" x2="158" y2="347.8" stroke="#6b6b6b" stroke-width="1.1" stroke-linecap="butt"/>
<line x1="156" y1="323.9" x2="160" y2="323.9" stroke="#6b6b6b" stroke-width="1.1" stroke-linecap="butt"/>
<line x1="156" y1="347.8" x2="160" y2="347.8" stroke="#6b6b6b" stroke-width="1.1" stroke-linecap="butt"/>
<line x1="158" y1="361.5" x2="158" y2="375" stroke="#6b6b6b" stroke-width="1.1" stroke-linecap="butt"/>
<line x1="156" y1="361.5" x2="160" y2="361.5" stroke="#6b6b6b" stroke-width="1.1" stroke-linecap="butt"/>
<line x1="156" y1="375" x2="160" y2="375" stroke="#6b6b6b" stroke-width="1.1" stroke-linecap="butt"/>
<line x1="158" y1="375.5" x2="158" y2="382" stroke="#6b6b6b" stroke-width="1.1" stroke-linecap="butt"/>
<line x1="156" y1="375.5" x2="160" y2="375.5" stroke="#6b6b6b" stroke-width="1.1" stroke-linecap="butt"/>
<line x1="156" y1="382" x2="160" y2="382" stroke="#6b6b6b" stroke-width="1.1" stroke-linecap="butt"/>
<line x1="228.6" y1="266.6" x2="228.6" y2="311.9" stroke="#6b6b6b" stroke-width="1.1" stroke-linecap="butt"/>
<line x1="226.6" y1="266.6" x2="230.6" y2="266.6" stroke="#6b6b6b" stroke-width="1.1" stroke-linecap="butt"/>
<line x1="226.6" y1="311.9" x2="230.6" y2="311.9" stroke="#6b6b6b" stroke-width="1.1" stroke-linecap="butt"/>
<line x1="228.6" y1="329.4" x2="228.6" y2="352.2" stroke="#6b6b6b" stroke-width="1.1" stroke-linecap="butt"/>
<line x1="226.6" y1="329.4" x2="230.6" y2="329.4" stroke="#6b6b6b" stroke-width="1.1" stroke-linecap="butt"/>
<line x1="226.6" y1="352.2" x2="230.6" y2="352.2" stroke="#6b6b6b" stroke-width="1.1" stroke-linecap="butt"/>
<line x1="228.6" y1="377.9" x2="228.6" y2="384" stroke="#6b6b6b" stroke-width="1.1" stroke-linecap="butt"/>
<line x1="226.6" y1="377.9" x2="230.6" y2="377.9" stroke="#6b6b6b" stroke-width="1.1" stroke-linecap="butt"/>
<line x1="226.6" y1="384" x2="230.6" y2="384" stroke="#6b6b6b" stroke-width="1.1" stroke-linecap="butt"/>
<line x1="228.6" y1="380" x2="228.6" y2="387.8" stroke="#6b6b6b" stroke-width="1.1" stroke-linecap="butt"/>
<line x1="226.6" y1="380" x2="230.6" y2="380" stroke="#6b6b6b" stroke-width="1.1" stroke-linecap="butt"/>
<line x1="226.6" y1="387.8" x2="230.6" y2="387.8" stroke="#6b6b6b" stroke-width="1.1" stroke-linecap="butt"/>
<line x1="299.9" y1="265.2" x2="299.9" y2="316.3" stroke="#6b6b6b" stroke-width="1.1" stroke-linecap="butt"/>
<line x1="297.9" y1="265.2" x2="301.9" y2="265.2" stroke="#6b6b6b" stroke-width="1.1" stroke-linecap="butt"/>
<line x1="297.9" y1="316.3" x2="301.9" y2="316.3" stroke="#6b6b6b" stroke-width="1.1" stroke-linecap="butt"/>
<line x1="299.9" y1="328" x2="299.9" y2="370.6" stroke="#6b6b6b" stroke-width="1.1" stroke-linecap="butt"/>
<line x1="297.9" y1="328" x2="301.9" y2="328" stroke="#6b6b6b" stroke-width="1.1" stroke-linecap="butt"/>
<line x1="297.9" y1="370.6" x2="301.9" y2="370.6" stroke="#6b6b6b" stroke-width="1.1" stroke-linecap="butt"/>
<line x1="299.9" y1="384.9" x2="299.9" y2="391.6" stroke="#6b6b6b" stroke-width="1.1" stroke-linecap="butt"/>
<line x1="297.9" y1="384.9" x2="301.9" y2="384.9" stroke="#6b6b6b" stroke-width="1.1" stroke-linecap="butt"/>
<line x1="297.9" y1="391.6" x2="301.9" y2="391.6" stroke="#6b6b6b" stroke-width="1.1" stroke-linecap="butt"/>
<line x1="299.9" y1="378.5" x2="299.9" y2="389.6" stroke="#6b6b6b" stroke-width="1.1" stroke-linecap="butt"/>
<line x1="297.9" y1="378.5" x2="301.9" y2="378.5" stroke="#6b6b6b" stroke-width="1.1" stroke-linecap="butt"/>
<line x1="297.9" y1="389.6" x2="301.9" y2="389.6" stroke="#6b6b6b" stroke-width="1.1" stroke-linecap="butt"/>
<polyline points="85.8,373.8 158,378.5 228.6,383.4 299.9,383.7" fill="none" stroke="#FFC000" stroke-width="1.9" stroke-linejoin="round" stroke-linecap="butt"/>
<polyline points="85.8,373.8 158,368.2 228.6,380.8 299.9,388.1" fill="none" stroke="#A5A5A5" stroke-width="1.9" stroke-linejoin="round" stroke-linecap="butt"/>
<polyline points="85.8,373.8 158,335.3 228.6,341.1 299.9,349.3" fill="none" stroke="#ED7D31" stroke-width="1.9" stroke-linejoin="round" stroke-linecap="butt"/>
<polyline points="85.8,373.8 158,275.7 228.6,289.4 299.9,290.3" fill="none" stroke="#4472C4" stroke-width="1.9" stroke-linejoin="round" stroke-linecap="butt"/>
<polyline points="162.2,282.1 167.7,282.1 167.7,333.2 162.2,333.2" fill="none" stroke="#404040" stroke-width="1.15"/>
<text x="174" y="286.5" font-size="8.2" text-anchor="start" font-weight="normal" fill="#000" transform="rotate(90 174 286.5)" textLength="38" lengthAdjust="spacingAndGlyphs"><tspan font-style="italic">P</tspan> = 0.008</text>
<polyline points="232.9,292.3 238.4,292.3 238.4,339 232.9,339" fill="none" stroke="#404040" stroke-width="1.15"/>
<text x="243.5" y="295.3" font-size="8.2" text-anchor="start" font-weight="normal" fill="#000" transform="rotate(90 243.5 295.3)" textLength="36.5" lengthAdjust="spacingAndGlyphs"><tspan font-style="italic">P</tspan> = 0.049</text>
<polyline points="304.4,290.3 309.9,290.3 309.9,347.2 304.4,347.2" fill="none" stroke="#404040" stroke-width="1.15"/>
<text x="316.5" y="301.1" font-size="8.2" text-anchor="start" font-weight="normal" fill="#000" transform="rotate(90 316.5 301.1)" textLength="36.5" lengthAdjust="spacingAndGlyphs"><tspan font-style="italic">P</tspan> = 0.079</text>
<text x="0.4" y="682.8" font-size="16.2" text-anchor="start" font-weight="bold" fill="#000" stroke="#000" stroke-width="0.45">h</text>
<line x1="58.2" y1="679.4" x2="78" y2="679.4" stroke="#4472C4" stroke-width="1.8" stroke-linecap="butt"/>
<text x="82.9" y="682.8" font-size="10.2" text-anchor="start" font-weight="normal" fill="#000">WT, CNO</text>
<line x1="58.2" y1="691.7" x2="78" y2="691.7" stroke="#ED7D31" stroke-width="1.8" stroke-linecap="butt"/>
<text x="82.9" y="697.9" font-size="10.2" text-anchor="start" font-weight="normal" fill="#000">KO, CNO</text>
<line x1="144.4" y1="679.4" x2="164.1" y2="679.4" stroke="#A5A5A5" stroke-width="1.8" stroke-linecap="butt"/>
<text x="169" y="682.8" font-size="10.2" text-anchor="start" font-weight="normal" fill="#000">WT, saline</text>
<line x1="144.4" y1="691.7" x2="164.1" y2="691.7" stroke="#FFC000" stroke-width="1.8" stroke-linecap="butt"/>
<text x="169" y="697.9" font-size="10.2" text-anchor="start" font-weight="normal" fill="#000">KO, saline</text>
<line x1="52" y1="701.3" x2="52" y2="843.3" stroke="#4d4d4d" stroke-width="1.3" stroke-linecap="butt"/>
<line x1="51.4" y1="842.7" x2="335" y2="842.7" stroke="#4d4d4d" stroke-width="1.3" stroke-linecap="butt"/>
<text x="47" y="724.9" font-size="10.4" text-anchor="end" font-weight="normal" fill="#000">1.0</text>
<text x="47" y="765.4" font-size="10.4" text-anchor="end" font-weight="normal" fill="#000">0.6</text>
<text x="47" y="805.7" font-size="10.4" text-anchor="end" font-weight="normal" fill="#000">0.2</text>
<text x="47" y="846.4" font-size="10.4" text-anchor="end" font-weight="normal" fill="#000">−0.2</text>
<text x="85.8" y="854.2" font-size="10" text-anchor="middle" font-weight="normal" fill="#000">0</text>
<text x="158" y="854.2" font-size="10" text-anchor="middle" font-weight="normal" fill="#000">1</text>
<text x="228.6" y="854.2" font-size="10" text-anchor="middle" font-weight="normal" fill="#000">2</text>
<text x="299.9" y="854.2" font-size="10" text-anchor="middle" font-weight="normal" fill="#000">3</text>
<text x="194.2" y="870.2" font-size="9.8" text-anchor="middle" font-weight="normal" fill="#000" textLength="36.8" lengthAdjust="spacingAndGlyphs">Time (h)</text>
<text x="16.9" y="772" font-size="10.2" text-anchor="middle" font-weight="normal" fill="#000" transform="rotate(-90 16.9 772)" textLength="126.5" lengthAdjust="spacingAndGlyphs">Change in temperature (°C)</text>
<line x1="158" y1="706.8" x2="158" y2="740.9" stroke="#6b6b6b" stroke-width="1.1" stroke-linecap="butt"/>
<line x1="156" y1="706.8" x2="160" y2="706.8" stroke="#6b6b6b" stroke-width="1.1" stroke-linecap="butt"/>
<line x1="156" y1="740.9" x2="160" y2="740.9" stroke="#6b6b6b" stroke-width="1.1" stroke-linecap="butt"/>
<line x1="158" y1="772.5" x2="158" y2="796.4" stroke="#6b6b6b" stroke-width="1.1" stroke-linecap="butt"/>
<line x1="156" y1="772.5" x2="160" y2="772.5" stroke="#6b6b6b" stroke-width="1.1" stroke-linecap="butt"/>
<line x1="156" y1="796.4" x2="160" y2="796.4" stroke="#6b6b6b" stroke-width="1.1" stroke-linecap="butt"/>
<line x1="158" y1="810.1" x2="158" y2="823.6" stroke="#6b6b6b" stroke-width="1.1" stroke-linecap="butt"/>
<line x1="156" y1="810.1" x2="160" y2="810.1" stroke="#6b6b6b" stroke-width="1.1" stroke-linecap="butt"/>
<line x1="156" y1="823.6" x2="160" y2="823.6" stroke="#6b6b6b" stroke-width="1.1" stroke-linecap="butt"/>
<line x1="158" y1="824.1" x2="158" y2="830.6" stroke="#6b6b6b" stroke-width="1.1" stroke-linecap="butt"/>
<line x1="156" y1="824.1" x2="160" y2="824.1" stroke="#6b6b6b" stroke-width="1.1" stroke-linecap="butt"/>
<line x1="156" y1="830.6" x2="160" y2="830.6" stroke="#6b6b6b" stroke-width="1.1" stroke-linecap="butt"/>
<line x1="228.6" y1="715.2" x2="228.6" y2="760.5" stroke="#6b6b6b" stroke-width="1.1" stroke-linecap="butt"/>
<line x1="226.6" y1="715.2" x2="230.6" y2="715.2" stroke="#6b6b6b" stroke-width="1.1" stroke-linecap="butt"/>
<line x1="226.6" y1="760.5" x2="230.6" y2="760.5" stroke="#6b6b6b" stroke-width="1.1" stroke-linecap="butt"/>
<line x1="228.6" y1="778" x2="228.6" y2="800.8" stroke="#6b6b6b" stroke-width="1.1" stroke-linecap="butt"/>
<line x1="226.6" y1="778" x2="230.6" y2="778" stroke="#6b6b6b" stroke-width="1.1" stroke-linecap="butt"/>
<line x1="226.6" y1="800.8" x2="230.6" y2="800.8" stroke="#6b6b6b" stroke-width="1.1" stroke-linecap="butt"/>
<line x1="228.6" y1="826.5" x2="228.6" y2="832.6" stroke="#6b6b6b" stroke-width="1.1" stroke-linecap="butt"/>
<line x1="226.6" y1="826.5" x2="230.6" y2="826.5" stroke="#6b6b6b" stroke-width="1.1" stroke-linecap="butt"/>
<line x1="226.6" y1="832.6" x2="230.6" y2="832.6" stroke="#6b6b6b" stroke-width="1.1" stroke-linecap="butt"/>
<line x1="228.6" y1="828.6" x2="228.6" y2="836.4" stroke="#6b6b6b" stroke-width="1.1" stroke-linecap="butt"/>
<line x1="226.6" y1="828.6" x2="230.6" y2="828.6" stroke="#6b6b6b" stroke-width="1.1" stroke-linecap="butt"/>
<line x1="226.6" y1="836.4" x2="230.6" y2="836.4" stroke="#6b6b6b" stroke-width="1.1" stroke-linecap="butt"/>
<line x1="299.9" y1="713.8" x2="299.9" y2="764.9" stroke="#6b6b6b" stroke-width="1.1" stroke-linecap="butt"/>
<line x1="297.9" y1="713.8" x2="301.9" y2="713.8" stroke="#6b6b6b" stroke-width="1.1" stroke-linecap="butt"/>
<line x1="297.9" y1="764.9" x2="301.9" y2="764.9" stroke="#6b6b6b" stroke-width="1.1" stroke-linecap="butt"/>
<line x1="299.9" y1="776.6" x2="299.9" y2="819.2" stroke="#6b6b6b" stroke-width="1.1" stroke-linecap="butt"/>
<line x1="297.9" y1="776.6" x2="301.9" y2="776.6" stroke="#6b6b6b" stroke-width="1.1" stroke-linecap="butt"/>
<line x1="297.9" y1="819.2" x2="301.9" y2="819.2" stroke="#6b6b6b" stroke-width="1.1" stroke-linecap="butt"/>
<line x1="299.9" y1="833.5" x2="299.9" y2="840.2" stroke="#6b6b6b" stroke-width="1.1" stroke-linecap="butt"/>
<line x1="297.9" y1="833.5" x2="301.9" y2="833.5" stroke="#6b6b6b" stroke-width="1.1" stroke-linecap="butt"/>
<line x1="297.9" y1="840.2" x2="301.9" y2="840.2" stroke="#6b6b6b" stroke-width="1.1" stroke-linecap="butt"/>
<line x1="299.9" y1="827.1" x2="299.9" y2="838.2" stroke="#6b6b6b" stroke-width="1.1" stroke-linecap="butt"/>
<line x1="297.9" y1="827.1" x2="301.9" y2="827.1" stroke="#6b6b6b" stroke-width="1.1" stroke-linecap="butt"/>
<line x1="297.9" y1="838.2" x2="301.9" y2="838.2" stroke="#6b6b6b" stroke-width="1.1" stroke-linecap="butt"/>
<polyline points="85.8,822.4 158,827.1 228.6,832 299.9,832.3" fill="none" stroke="#FFC000" stroke-width="1.9" stroke-linejoin="round" stroke-linecap="butt"/>
<polyline points="85.8,822.4 158,816.8 228.6,829.4 299.9,836.7" fill="none" stroke="#A5A5A5" stroke-width="1.9" stroke-linejoin="round" stroke-linecap="butt"/>
<polyline points="85.8,822.4 158,783.9 228.6,789.7 299.9,797.9" fill="none" stroke="#ED7D31" stroke-width="1.9" stroke-linejoin="round" stroke-linecap="butt"/>
<polyline points="85.8,822.4 158,724.3 228.6,738 299.9,738.9" fill="none" stroke="#4472C4" stroke-width="1.9" stroke-linejoin="round" stroke-linecap="butt"/>
<text x="57.5" y="716.6" font-size="8.16" text-anchor="start" font-weight="normal" fill="#2e2e2e" font-style="italic">P</text>
<text x="62.9" y="718.5" font-size="5.9" text-anchor="start" font-weight="normal" fill="#2e2e2e" textLength="25.3" lengthAdjust="spacingAndGlyphs">genotype</text>
<text x="89.5" y="716.6" font-size="8.0" text-anchor="start" font-weight="normal" fill="#2e2e2e" textLength="32.2" lengthAdjust="spacingAndGlyphs">= 0.0237</text>
<text x="57.5" y="726.4" font-size="8.16" text-anchor="start" font-weight="normal" fill="#2e2e2e" font-style="italic">P</text>
<text x="62.9" y="728.3" font-size="5.9" text-anchor="start" font-weight="normal" fill="#2e2e2e" textLength="11.9" lengthAdjust="spacingAndGlyphs">time</text>
<text x="76.3" y="726.4" font-size="8.0" text-anchor="start" font-weight="normal" fill="#2e2e2e" textLength="27.4" lengthAdjust="spacingAndGlyphs">= 0.359</text>
<text x="57.5" y="735.8" font-size="8.16" text-anchor="start" font-weight="normal" fill="#2e2e2e" font-style="italic">P</text>
<text x="62.9" y="737.7" font-size="5.9" text-anchor="start" font-weight="normal" fill="#2e2e2e" textLength="43" lengthAdjust="spacingAndGlyphs">genotype × time</text>
<text x="107.2" y="735.8" font-size="8.0" text-anchor="start" font-weight="normal" fill="#2e2e2e" textLength="32.2" lengthAdjust="spacingAndGlyphs">= 0.8961</text>
<text x="351.3" y="234.2" font-size="16" text-anchor="start" font-weight="bold" fill="#000" stroke="#000" stroke-width="0.45">i</text>
<line x1="436.4" y1="232.8" x2="456.2" y2="232.8" stroke="#4472C4" stroke-width="1.8" stroke-linecap="butt"/>
<text x="461.3" y="236.2" font-size="10.2" text-anchor="start" font-weight="normal" fill="#000">WT, CNO</text>
<line x1="436.4" y1="248" x2="456.2" y2="248" stroke="#12AD4E" stroke-width="1.8" stroke-linecap="butt"/>
<text x="461.3" y="251.9" font-size="10.2" text-anchor="start" font-weight="normal" fill="#000">Tg, CNO</text>
<line x1="543.3" y1="232.8" x2="563" y2="232.8" stroke="#A5A5A5" stroke-width="1.8" stroke-linecap="butt"/>
<text x="567.6" y="236.2" font-size="10.2" text-anchor="start" font-weight="normal" fill="#000">WT, saline</text>
<line x1="543.3" y1="248" x2="563" y2="248" stroke="#FFC000" stroke-width="1.8" stroke-linecap="butt"/>
<text x="567.6" y="250.2" font-size="10.2" text-anchor="start" font-weight="normal" fill="#000">Tg, saline</text>
<line x1="402.4" y1="244.2" x2="402.4" y2="389.9" stroke="#4d4d4d" stroke-width="1.3" stroke-linecap="butt"/>
<line x1="401.8" y1="389.3" x2="685" y2="389.3" stroke="#4d4d4d" stroke-width="1.3" stroke-linecap="butt"/>
<text x="396.8" y="270.6" font-size="10.4" text-anchor="end" font-weight="normal" fill="#000">1.3</text>
<text x="396.8" y="301.2" font-size="10.4" text-anchor="end" font-weight="normal" fill="#000">0.9</text>
<text x="396.8" y="331.5" font-size="10.4" text-anchor="end" font-weight="normal" fill="#000">0.5</text>
<text x="396.8" y="362.6" font-size="10.4" text-anchor="end" font-weight="normal" fill="#000">0.1</text>
<text x="396.8" y="393" font-size="10.4" text-anchor="end" font-weight="normal" fill="#000">−0.3</text>
<text x="436.5" y="400.6" font-size="10" text-anchor="middle" font-weight="normal" fill="#000">0</text>
<text x="507.3" y="400.6" font-size="10" text-anchor="middle" font-weight="normal" fill="#000">1</text>
<text x="578.1" y="400.6" font-size="10" text-anchor="middle" font-weight="normal" fill="#000">2</text>
<text x="648.9" y="400.6" font-size="10" text-anchor="middle" font-weight="normal" fill="#000">3</text>
<text x="545.3" y="416.4" font-size="9.8" text-anchor="middle" font-weight="normal" fill="#000" textLength="36.8" lengthAdjust="spacingAndGlyphs">Time (h)</text>
<text x="367.2" y="321.2" font-size="10.2" text-anchor="middle" font-weight="normal" fill="#000" transform="rotate(-90 367.2 321.2)" textLength="127.5" lengthAdjust="spacingAndGlyphs">Change in temperature (°C)</text>
<line x1="507.3" y1="261.8" x2="507.3" y2="287.9" stroke="#6b6b6b" stroke-width="1.1" stroke-linecap="butt"/>
<line x1="505.3" y1="261.8" x2="509.3" y2="261.8" stroke="#6b6b6b" stroke-width="1.1" stroke-linecap="butt"/>
<line x1="505.3" y1="287.9" x2="509.3" y2="287.9" stroke="#6b6b6b" stroke-width="1.1" stroke-linecap="butt"/>
<line x1="507.3" y1="317.8" x2="507.3" y2="326.2" stroke="#6b6b6b" stroke-width="1.1" stroke-linecap="butt"/>
<line x1="505.3" y1="317.8" x2="509.3" y2="317.8" stroke="#6b6b6b" stroke-width="1.1" stroke-linecap="butt"/>
<line x1="505.3" y1="326.2" x2="509.3" y2="326.2" stroke="#6b6b6b" stroke-width="1.1" stroke-linecap="butt"/>
<line x1="507.3" y1="356.1" x2="507.3" y2="364.5" stroke="#6b6b6b" stroke-width="1.1" stroke-linecap="butt"/>
<line x1="505.3" y1="356.1" x2="509.3" y2="356.1" stroke="#6b6b6b" stroke-width="1.1" stroke-linecap="butt"/>
<line x1="505.3" y1="364.5" x2="509.3" y2="364.5" stroke="#6b6b6b" stroke-width="1.1" stroke-linecap="butt"/>
<line x1="507.3" y1="360" x2="507.3" y2="370.8" stroke="#6b6b6b" stroke-width="1.1" stroke-linecap="butt"/>
<line x1="505.3" y1="360" x2="509.3" y2="360" stroke="#6b6b6b" stroke-width="1.1" stroke-linecap="butt"/>
<line x1="505.3" y1="370.8" x2="509.3" y2="370.8" stroke="#6b6b6b" stroke-width="1.1" stroke-linecap="butt"/>
<line x1="578.1" y1="258.6" x2="578.1" y2="283.4" stroke="#6b6b6b" stroke-width="1.1" stroke-linecap="butt"/>
<line x1="576.1" y1="258.6" x2="580.1" y2="258.6" stroke="#6b6b6b" stroke-width="1.1" stroke-linecap="butt"/>
<line x1="576.1" y1="283.4" x2="580.1" y2="283.4" stroke="#6b6b6b" stroke-width="1.1" stroke-linecap="butt"/>
<line x1="578.1" y1="309.4" x2="578.1" y2="324.4" stroke="#6b6b6b" stroke-width="1.1" stroke-linecap="butt"/>
<line x1="576.1" y1="309.4" x2="580.1" y2="309.4" stroke="#6b6b6b" stroke-width="1.1" stroke-linecap="butt"/>
<line x1="576.1" y1="324.4" x2="580.1" y2="324.4" stroke="#6b6b6b" stroke-width="1.1" stroke-linecap="butt"/>
<line x1="578.1" y1="360.6" x2="578.1" y2="371" stroke="#6b6b6b" stroke-width="1.1" stroke-linecap="butt"/>
<line x1="576.1" y1="360.6" x2="580.1" y2="360.6" stroke="#6b6b6b" stroke-width="1.1" stroke-linecap="butt"/>
<line x1="576.1" y1="371" x2="580.1" y2="371" stroke="#6b6b6b" stroke-width="1.1" stroke-linecap="butt"/>
<line x1="578.1" y1="364" x2="578.1" y2="379.2" stroke="#6b6b6b" stroke-width="1.1" stroke-linecap="butt"/>
<line x1="576.1" y1="364" x2="580.1" y2="364" stroke="#6b6b6b" stroke-width="1.1" stroke-linecap="butt"/>
<line x1="576.1" y1="379.2" x2="580.1" y2="379.2" stroke="#6b6b6b" stroke-width="1.1" stroke-linecap="butt"/>
<line x1="648.9" y1="292.4" x2="648.9" y2="306.4" stroke="#6b6b6b" stroke-width="1.1" stroke-linecap="butt"/>
<line x1="646.9" y1="292.4" x2="650.9" y2="292.4" stroke="#6b6b6b" stroke-width="1.1" stroke-linecap="butt"/>
<line x1="646.9" y1="306.4" x2="650.9" y2="306.4" stroke="#6b6b6b" stroke-width="1.1" stroke-linecap="butt"/>
<line x1="648.9" y1="329.2" x2="648.9" y2="342.4" stroke="#6b6b6b" stroke-width="1.1" stroke-linecap="butt"/>
<line x1="646.9" y1="329.2" x2="650.9" y2="329.2" stroke="#6b6b6b" stroke-width="1.1" stroke-linecap="butt"/>
<line x1="646.9" y1="342.4" x2="650.9" y2="342.4" stroke="#6b6b6b" stroke-width="1.1" stroke-linecap="butt"/>
<line x1="648.9" y1="362.1" x2="648.9" y2="373" stroke="#6b6b6b" stroke-width="1.1" stroke-linecap="butt"/>
<line x1="646.9" y1="362.1" x2="650.9" y2="362.1" stroke="#6b6b6b" stroke-width="1.1" stroke-linecap="butt"/>
<line x1="646.9" y1="373" x2="650.9" y2="373" stroke="#6b6b6b" stroke-width="1.1" stroke-linecap="butt"/>
<line x1="648.9" y1="366" x2="648.9" y2="380.7" stroke="#6b6b6b" stroke-width="1.1" stroke-linecap="butt"/>
<line x1="646.9" y1="366" x2="650.9" y2="366" stroke="#6b6b6b" stroke-width="1.1" stroke-linecap="butt"/>
<line x1="646.9" y1="380.7" x2="650.9" y2="380.7" stroke="#6b6b6b" stroke-width="1.1" stroke-linecap="butt"/>
<polyline points="436.5,366 507.3,364.2 578.1,369.6 648.9,371.7" fill="none" stroke="#FFC000" stroke-width="1.9" stroke-linejoin="round" stroke-linecap="butt"/>
<polyline points="436.5,366 507.3,360.6 578.1,366.3 648.9,368.1" fill="none" stroke="#A5A5A5" stroke-width="1.9" stroke-linejoin="round" stroke-linecap="butt"/>
<polyline points="436.5,366 507.3,322.3 578.1,316.3 648.9,335.8" fill="none" stroke="#4472C4" stroke-width="1.9" stroke-linejoin="round" stroke-linecap="butt"/>
<polyline points="436.5,366 507.3,275.3 578.1,270.5 648.9,299.3" fill="none" stroke="#12AD4E" stroke-width="1.9" stroke-linejoin="round" stroke-linecap="butt"/>
<polyline points="514,276.5 519.5,276.5 519.5,315.7 514,315.7" fill="none" stroke="#404040" stroke-width="1.15"/>
<text x="524.3" y="277.4" font-size="8.2" text-anchor="start" font-weight="normal" fill="#000" transform="rotate(90 524.3 277.4)" textLength="35.9" lengthAdjust="spacingAndGlyphs"><tspan font-style="italic">P</tspan> = 0.007</text>
<polyline points="586.7,275 592.2,275 592.2,311.2 586.7,311.2" fill="none" stroke="#404040" stroke-width="1.15"/>
<text x="596.1" y="283.4" font-size="8.2" text-anchor="start" font-weight="normal" fill="#000" transform="rotate(90 596.1 283.4)" textLength="35" lengthAdjust="spacingAndGlyphs"><tspan font-style="italic">P</tspan> = 0.012</text>
<polyline points="657.1,298.4 662.6,298.4 662.6,330.4 657.1,330.4" fill="none" stroke="#404040" stroke-width="1.15"/>
<text x="667" y="295.4" font-size="8.2" text-anchor="start" font-weight="normal" fill="#000" transform="rotate(90 667 295.4)" textLength="35.9" lengthAdjust="spacingAndGlyphs"><tspan font-style="italic">P</tspan> = 0.005</text>
<text x="351.3" y="682.2" font-size="16" text-anchor="start" font-weight="bold" fill="#000" stroke="#000" stroke-width="0.45">i</text>
<line x1="408.8" y1="680.8" x2="428" y2="680.8" stroke="#4472C4" stroke-width="1.8" stroke-linecap="butt"/>
<text x="433.3" y="684.2" font-size="10.2" text-anchor="start" font-weight="normal" fill="#000">WT, CNO</text>
<line x1="408.8" y1="696" x2="428" y2="696" stroke="#12AD4E" stroke-width="1.8" stroke-linecap="butt"/>
<text x="433.3" y="699.9" font-size="10.2" text-anchor="start" font-weight="normal" fill="#000">Tg, CNO</text>
<line x1="496.2" y1="680.8" x2="515.6" y2="680.8" stroke="#A5A5A5" stroke-width="1.8" stroke-linecap="butt"/>
<text x="520.9" y="684.2" font-size="10.2" text-anchor="start" font-weight="normal" fill="#000">WT, saline</text>
<line x1="496.2" y1="696" x2="515.6" y2="696" stroke="#FFC000" stroke-width="1.8" stroke-linecap="butt"/>
<text x="520.9" y="698.2" font-size="10.2" text-anchor="start" font-weight="normal" fill="#000">Tg, saline</text>
<line x1="402.4" y1="692.2" x2="402.4" y2="837.9" stroke="#4d4d4d" stroke-width="1.3" stroke-linecap="butt"/>
<line x1="401.8" y1="837.3" x2="685" y2="837.3" stroke="#4d4d4d" stroke-width="1.3" stroke-linecap="butt"/>
<text x="396.8" y="718.6" font-size="10.4" text-anchor="end" font-weight="normal" fill="#000">1.3</text>
<text x="396.8" y="749.2" font-size="10.4" text-anchor="end" font-weight="normal" fill="#000">0.9</text>
<text x="396.8" y="779.5" font-size="10.4" text-anchor="end" font-weight="normal" fill="#000">0.5</text>
<text x="396.8" y="810.6" font-size="10.4" text-anchor="end" font-weight="normal" fill="#000">0.1</text>
<text x="396.8" y="841" font-size="10.4" text-anchor="end" font-weight="normal" fill="#000">−0.3</text>
<text x="436.5" y="848.6" font-size="10" text-anchor="middle" font-weight="normal" fill="#000">0</text>
<text x="507.3" y="848.6" font-size="10" text-anchor="middle" font-weight="normal" fill="#000">1</text>
<text x="578.1" y="848.6" font-size="10" text-anchor="middle" font-weight="normal" fill="#000">2</text>
<text x="648.9" y="848.6" font-size="10" text-anchor="middle" font-weight="normal" fill="#000">3</text>
<text x="545.3" y="864.4" font-size="9.8" text-anchor="middle" font-weight="normal" fill="#000" textLength="36.8" lengthAdjust="spacingAndGlyphs">Time (h)</text>
<text x="367.2" y="769.2" font-size="10.2" text-anchor="middle" font-weight="normal" fill="#000" transform="rotate(-90 367.2 769.2)" textLength="127.5" lengthAdjust="spacingAndGlyphs">Change in temperature (°C)</text>
<line x1="507.3" y1="709.8" x2="507.3" y2="735.9" stroke="#6b6b6b" stroke-width="1.1" stroke-linecap="butt"/>
<line x1="505.3" y1="709.8" x2="509.3" y2="709.8" stroke="#6b6b6b" stroke-width="1.1" stroke-linecap="butt"/>
<line x1="505.3" y1="735.9" x2="509.3" y2="735.9" stroke="#6b6b6b" stroke-width="1.1" stroke-linecap="butt"/>
<line x1="507.3" y1="765.8" x2="507.3" y2="774.2" stroke="#6b6b6b" stroke-width="1.1" stroke-linecap="butt"/>
<line x1="505.3" y1="765.8" x2="509.3" y2="765.8" stroke="#6b6b6b" stroke-width="1.1" stroke-linecap="butt"/>
<line x1="505.3" y1="774.2" x2="509.3" y2="774.2" stroke="#6b6b6b" stroke-width="1.1" stroke-linecap="butt"/>
<line x1="507.3" y1="804.1" x2="507.3" y2="812.5" stroke="#6b6b6b" stroke-width="1.1" stroke-linecap="butt"/>
<line x1="505.3" y1="804.1" x2="509.3" y2="804.1" stroke="#6b6b6b" stroke-width="1.1" stroke-linecap="butt"/>
<line x1="505.3" y1="812.5" x2="509.3" y2="812.5" stroke="#6b6b6b" stroke-width="1.1" stroke-linecap="butt"/>
<line x1="507.3" y1="808" x2="507.3" y2="818.8" stroke="#6b6b6b" stroke-width="1.1" stroke-linecap="butt"/>
<line x1="505.3" y1="808" x2="509.3" y2="808" stroke="#6b6b6b" stroke-width="1.1" stroke-linecap="butt"/>
<line x1="505.3" y1="818.8" x2="509.3" y2="818.8" stroke="#6b6b6b" stroke-width="1.1" stroke-linecap="butt"/>
<line x1="578.1" y1="706.6" x2="578.1" y2="731.4" stroke="#6b6b6b" stroke-width="1.1" stroke-linecap="butt"/>
<line x1="576.1" y1="706.6" x2="580.1" y2="706.6" stroke="#6b6b6b" stroke-width="1.1" stroke-linecap="butt"/>
<line x1="576.1" y1="731.4" x2="580.1" y2="731.4" stroke="#6b6b6b" stroke-width="1.1" stroke-linecap="butt"/>
<line x1="578.1" y1="757.4" x2="578.1" y2="772.4" stroke="#6b6b6b" stroke-width="1.1" stroke-linecap="butt"/>
<line x1="576.1" y1="757.4" x2="580.1" y2="757.4" stroke="#6b6b6b" stroke-width="1.1" stroke-linecap="butt"/>
<line x1="576.1" y1="772.4" x2="580.1" y2="772.4" stroke="#6b6b6b" stroke-width="1.1" stroke-linecap="butt"/>
<line x1="578.1" y1="808.6" x2="578.1" y2="819" stroke="#6b6b6b" stroke-width="1.1" stroke-linecap="butt"/>
<line x1="576.1" y1="808.6" x2="580.1" y2="808.6" stroke="#6b6b6b" stroke-width="1.1" stroke-linecap="butt"/>
<line x1="576.1" y1="819" x2="580.1" y2="819" stroke="#6b6b6b" stroke-width="1.1" stroke-linecap="butt"/>
<line x1="578.1" y1="812" x2="578.1" y2="827.2" stroke="#6b6b6b" stroke-width="1.1" stroke-linecap="butt"/>
<line x1="576.1" y1="812" x2="580.1" y2="812" stroke="#6b6b6b" stroke-width="1.1" stroke-linecap="butt"/>
<line x1="576.1" y1="827.2" x2="580.1" y2="827.2" stroke="#6b6b6b" stroke-width="1.1" stroke-linecap="butt"/>
<line x1="648.9" y1="740.4" x2="648.9" y2="754.4" stroke="#6b6b6b" stroke-width="1.1" stroke-linecap="butt"/>
<line x1="646.9" y1="740.4" x2="650.9" y2="740.4" stroke="#6b6b6b" stroke-width="1.1" stroke-linecap="butt"/>
<line x1="646.9" y1="754.4" x2="650.9" y2="754.4" stroke="#6b6b6b" stroke-width="1.1" stroke-linecap="butt"/>
<line x1="648.9" y1="777.2" x2="648.9" y2="790.4" stroke="#6b6b6b" stroke-width="1.1" stroke-linecap="butt"/>
<line x1="646.9" y1="777.2" x2="650.9" y2="777.2" stroke="#6b6b6b" stroke-width="1.1" stroke-linecap="butt"/>
<line x1="646.9" y1="790.4" x2="650.9" y2="790.4" stroke="#6b6b6b" stroke-width="1.1" stroke-linecap="butt"/>
<line x1="648.9" y1="810.1" x2="648.9" y2="821" stroke="#6b6b6b" stroke-width="1.1" stroke-linecap="butt"/>
<line x1="646.9" y1="810.1" x2="650.9" y2="810.1" stroke="#6b6b6b" stroke-width="1.1" stroke-linecap="butt"/>
<line x1="646.9" y1="821" x2="650.9" y2="821" stroke="#6b6b6b" stroke-width="1.1" stroke-linecap="butt"/>
<line x1="648.9" y1="814" x2="648.9" y2="828.7" stroke="#6b6b6b" stroke-width="1.1" stroke-linecap="butt"/>
<line x1="646.9" y1="814" x2="650.9" y2="814" stroke="#6b6b6b" stroke-width="1.1" stroke-linecap="butt"/>
<line x1="646.9" y1="828.7" x2="650.9" y2="828.7" stroke="#6b6b6b" stroke-width="1.1" stroke-linecap="butt"/>
<polyline points="436.5,814 507.3,812.2 578.1,817.6 648.9,819.7" fill="none" stroke="#FFC000" stroke-width="1.9" stroke-linejoin="round" stroke-linecap="butt"/>
<polyline points="436.5,814 507.3,808.6 578.1,814.3 648.9,816.1" fill="none" stroke="#A5A5A5" stroke-width="1.9" stroke-linejoin="round" stroke-linecap="butt"/>
<polyline points="436.5,814 507.3,770.3 578.1,764.3 648.9,783.8" fill="none" stroke="#4472C4" stroke-width="1.9" stroke-linejoin="round" stroke-linecap="butt"/>
<polyline points="436.5,814 507.3,723.3 578.1,718.5 648.9,747.3" fill="none" stroke="#12AD4E" stroke-width="1.9" stroke-linejoin="round" stroke-linecap="butt"/>
<text x="408.6" y="714.6" font-size="8.16" text-anchor="start" font-weight="normal" fill="#2e2e2e" font-style="italic">P</text>
<text x="413.9" y="716.5" font-size="5.9" text-anchor="start" font-weight="normal" fill="#2e2e2e" textLength="25" lengthAdjust="spacingAndGlyphs">genotype</text>
<text x="440.7" y="714.6" font-size="8.0" text-anchor="start" font-weight="normal" fill="#2e2e2e" textLength="32" lengthAdjust="spacingAndGlyphs">= 0.0036</text>
<text x="408.6" y="724.7" font-size="8.16" text-anchor="start" font-weight="normal" fill="#2e2e2e" font-style="italic">P</text>
<text x="414.2" y="726.6" font-size="5.9" text-anchor="start" font-weight="normal" fill="#2e2e2e" textLength="11.6" lengthAdjust="spacingAndGlyphs">time</text>
<text x="427.3" y="724.7" font-size="8.0" text-anchor="start" font-weight="normal" fill="#2e2e2e" textLength="31.6" lengthAdjust="spacingAndGlyphs">= 0.0063</text>
<text x="408.6" y="734.3" font-size="8.16" text-anchor="start" font-weight="normal" fill="#2e2e2e" font-style="italic">P</text>
<text x="413.9" y="736.2" font-size="5.9" text-anchor="start" font-weight="normal" fill="#2e2e2e" textLength="43.4" lengthAdjust="spacingAndGlyphs">genotype × time</text>
<text x="458.2" y="734.3" font-size="8.0" text-anchor="start" font-weight="normal" fill="#2e2e2e" textLength="31.6" lengthAdjust="spacingAndGlyphs">= 0.5371</text>
</svg></body></html>
